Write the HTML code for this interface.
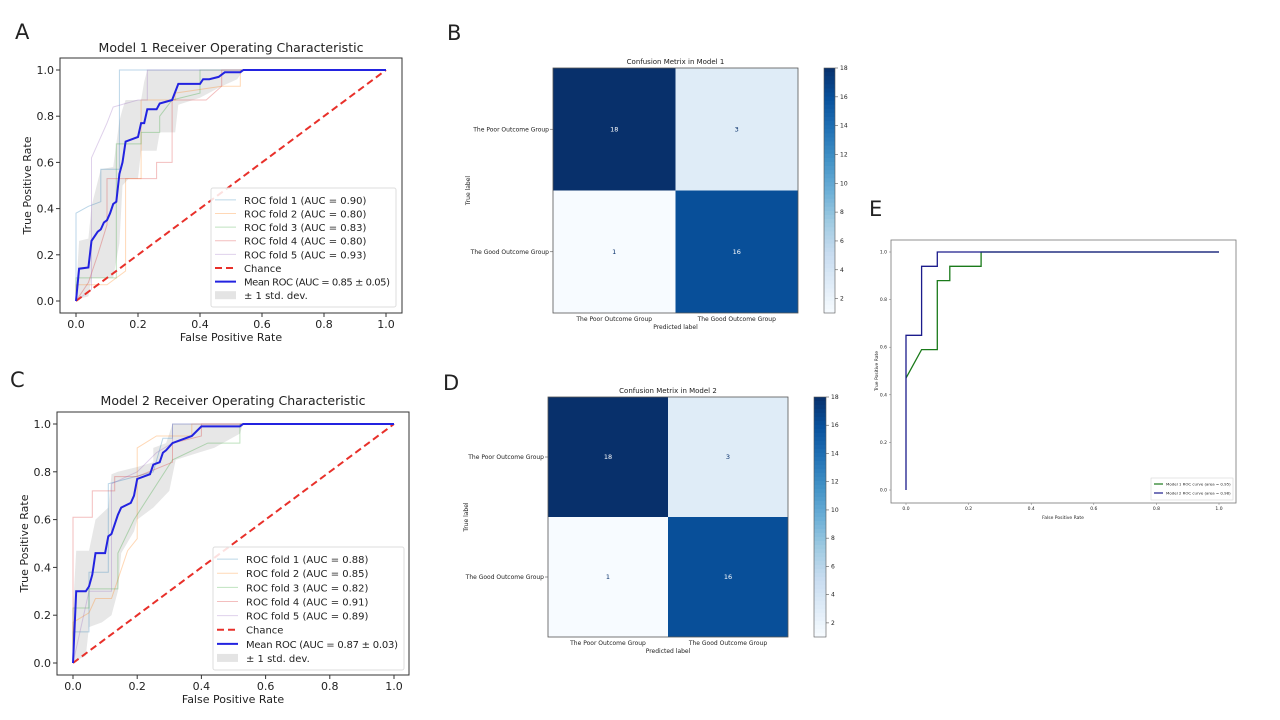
<!DOCTYPE html>
<html><head><meta charset="utf-8"><style>
body{margin:0;background:#fff}
svg{display:block}
text{font-family:"DejaVu Sans","Liberation Sans",sans-serif;fill:#222}
</style></head><body>
<svg id="fig" width="1280" height="720" viewBox="0 0 1280 720" xmlns="http://www.w3.org/2000/svg">
<rect width="1280" height="720" fill="#fff"/>
<text x="15" y="39" font-size="21" font-family="Liberation Sans">A</text>
<text x="447" y="40" font-size="21" font-family="Liberation Sans">B</text>
<text x="10" y="387" font-size="21" font-family="Liberation Sans">C</text>
<text x="443" y="390" font-size="21" font-family="Liberation Sans">D</text>
<text x="869" y="216" font-size="21" font-family="Liberation Sans">E</text>
</svg>
<script>
// ---- data ----
const ticks = [0, 0.2, 0.4, 0.6, 0.8, 1.0];
const tickLabels = ["0.0", "0.2", "0.4", "0.6", "0.8", "1.0"];
const foldColors = ["#1f77b4", "#ff7f0e", "#2ca02c", "#d62728", "#9467bd"];
const m1Auc = ["0.90", "0.80", "0.83", "0.80", "0.93"];
const m1MeanLabel = "Mean ROC (AUC = 0.85 ± 0.05)";
const m1Folds = [
 [[0,0],[0,0.38],[0.04,0.41],[0.08,0.43],[0.08,0.57],[0.14,0.57],[0.14,1],[1,1]],
 [[0,0],[0,0.07],[0.1,0.07],[0.16,0.13],[0.16,0.53],[0.21,0.53],[0.21,0.87],[0.32,0.87],[0.32,0.9],[0.47,0.93],[0.53,0.93],[0.53,1],[1,1]],
 [[0,0],[0,0.1],[0.13,0.1],[0.13,0.68],[0.21,0.68],[0.21,0.73],[0.27,0.73],[0.27,0.8],[0.31,0.87],[0.4,0.9],[0.4,1],[1,1]],
 [[0,0],[0.04,0.08],[0.07,0.2],[0.1,0.33],[0.1,0.53],[0.26,0.53],[0.26,0.6],[0.31,0.6],[0.31,0.87],[0.42,0.87],[0.47,0.93],[0.47,1],[1,1]],
 [[0,0],[0.05,0.05],[0.05,0.62],[0.1,0.77],[0.12,0.84],[0.2,0.87],[0.23,0.87],[0.23,1],[1,1]]
];
const m1Mean = [[0,0],[0.01,0.14],[0.04,0.145],[0.05,0.26],[0.07,0.3],[0.08,0.31],[0.09,0.34],[0.1,0.35],[0.11,0.38],[0.12,0.42],[0.13,0.43],[0.14,0.55],[0.15,0.6],[0.16,0.69],[0.2,0.71],[0.21,0.77],[0.22,0.77],[0.23,0.83],[0.26,0.83],[0.27,0.855],[0.31,0.87],[0.33,0.94],[0.4,0.94],[0.41,0.96],[0.43,0.96],[0.46,0.97],[0.48,0.99],[0.53,0.99],[0.54,1],[1,1]];
const m1Upper = [[0,0.04],[0.01,0.26],[0.04,0.27],[0.05,0.41],[0.08,0.57],[0.12,0.58],[0.14,0.78],[0.15,0.83],[0.16,0.87],[0.21,0.87],[0.22,0.95],[0.23,1],[1,1]];
const m1Lower = [[0,0],[0.01,0.01],[0.04,0.02],[0.05,0.1],[0.12,0.1],[0.14,0.25],[0.15,0.5],[0.17,0.53],[0.2,0.53],[0.21,0.65],[0.26,0.65],[0.27,0.73],[0.32,0.73],[0.33,0.85],[0.4,0.88],[0.47,0.93],[0.52,0.96],[0.54,1],[1,1]];
const m2Auc = ["0.88", "0.85", "0.82", "0.91", "0.89"];
const m2MeanLabel = "Mean ROC (AUC = 0.87 ± 0.03)";
const m2Folds = [
 [[0,0],[0,0.13],[0.05,0.13],[0.05,0.38],[0.11,0.38],[0.11,0.75],[0.25,0.8],[0.28,0.94],[0.31,0.94],[0.31,1],[1,1]],
 [[0,0],[0,0.17],[0.05,0.21],[0.07,0.27],[0.12,0.27],[0.17,0.47],[0.2,0.52],[0.2,0.9],[0.26,0.95],[0.37,0.95],[0.37,1],[1,1]],
 [[0,0],[0,0.23],[0.05,0.23],[0.05,0.31],[0.14,0.31],[0.14,0.46],[0.19,0.6],[0.31,0.85],[0.42,0.92],[0.52,0.92],[0.52,1],[1,1]],
 [[0,0],[0,0.61],[0.06,0.61],[0.06,0.72],[0.13,0.72],[0.13,0.78],[0.2,0.78],[0.31,0.84],[0.31,0.92],[0.4,0.95],[0.4,1],[1,1]],
 [[0,0],[0.05,0.3],[0.12,0.3],[0.12,0.75],[0.2,0.8],[0.26,0.88],[0.31,0.92],[0.31,1],[1,1]]
];
const m2Mean = [[0,0],[0.01,0.3],[0.04,0.3],[0.05,0.32],[0.06,0.37],[0.07,0.46],[0.1,0.46],[0.11,0.53],[0.12,0.54],[0.14,0.62],[0.15,0.65],[0.18,0.67],[0.19,0.7],[0.2,0.77],[0.24,0.79],[0.25,0.83],[0.27,0.84],[0.28,0.88],[0.29,0.89],[0.31,0.92],[0.33,0.93],[0.37,0.95],[0.4,0.99],[0.52,0.99],[0.53,1],[1,1]];
const m2Upper = [[0,0.23],[0.01,0.47],[0.05,0.47],[0.07,0.6],[0.11,0.65],[0.12,0.79],[0.14,0.8],[0.2,0.82],[0.25,0.84],[0.25,0.9],[0.29,0.92],[0.31,1],[1,1]];
const m2Lower = [[0,0],[0.01,0.01],[0.04,0.03],[0.05,0.15],[0.09,0.17],[0.12,0.2],[0.14,0.3],[0.15,0.46],[0.19,0.55],[0.2,0.6],[0.25,0.65],[0.3,0.72],[0.32,0.85],[0.39,0.88],[0.44,0.9],[0.52,0.96],[0.53,1],[1,1]];
const cmLabels = ["The Poor Outcome Group", "The Good Outcome Group"];
const cm1 = [[18, 3], [1, 16]];
const cm2 = [[18, 3], [1, 16]];
const cbTicks = [2, 4, 6, 8, 10, 12, 14, 16, 18];
const eModel1 = [[0,0.47],[0.05,0.59],[0.1,0.59],[0.1,0.88],[0.14,0.88],[0.14,0.94],[0.24,0.94],[0.24,1],[1,1]];
const eModel2 = [[0,0],[0,0.65],[0.05,0.65],[0.05,0.94],[0.1,0.94],[0.1,1],[1,1]];
const eLabels = ["Model 1 ROC curve (area = 0.95)", "Model 2 ROC curve (area = 0.98)"];

// ---- drawing ----
const svg = document.getElementById('fig');
const NS = 'http://www.w3.org/2000/svg';
function mk(tag, attrs, parent) {
  const e = document.createElementNS(NS, tag);
  for (const k in attrs) e.setAttribute(k, attrs[k]);
  (parent || svg).appendChild(e);
  return e;
}
function txt(x, y, s, size, anchor, parent, extra) {
  const t = mk('text', Object.assign({x: x, y: y, 'font-size': size, 'text-anchor': anchor || 'start'}, extra || {}), parent);
  t.textContent = s;
  return t;
}
function pathD(pts, sx, sy) {
  return pts.map((p, i) => (i ? 'L' : 'M') + sx(p[0]).toFixed(1) + ',' + sy(p[1]).toFixed(1)).join('');
}

function rocPanel(cfg) {
  const g = mk('g', {});
  
  
  const sx = v => cfg.x0 + v * (cfg.x1 - cfg.x0);
  const sy = v => cfg.y0 - v * (cfg.y0 - cfg.y1);
  const band = cfg.upper.concat(cfg.lower.slice().reverse());
  const b = mk('path', {d: pathD(band, sx, sy) + 'Z', fill: '#bbbbbb', 'fill-opacity': 0.35, stroke: 'none'}, g);
  
  
  cfg.folds.forEach((f, i) => {
    const p = mk('path', {d: pathD(f, sx, sy), fill: 'none', stroke: foldColors[i], 'stroke-opacity': 0.3, 'stroke-width': 1}, g);
    
    
  });
  const ch = mk('line', {x1: sx(0), y1: sy(0), x2: sx(1), y2: sy(1), stroke: '#e8302a', 'stroke-width': 2, 'stroke-dasharray': '7,4'}, g);
  
  
  const m = mk('path', {d: pathD(cfg.mean, sx, sy), fill: 'none', stroke: '#2323e0', 'stroke-width': 2}, g);
  
  
  const fr = mk('rect', {x: cfg.fx0, y: cfg.fy0, width: cfg.fx1 - cfg.fx0, height: cfg.fy1 - cfg.fy0, fill: 'none', stroke: '#333', 'stroke-width': 1}, g);
  
  
  ticks.forEach((t, i) => {
    mk('line', {x1: sx(t), x2: sx(t), y1: cfg.fy1, y2: cfg.fy1 + 4, stroke: '#333'}, g);
    const xl = txt(sx(t), cfg.fy1 + 15, tickLabels[i], 11, 'middle', g);
    
    
    mk('line', {x1: cfg.fx0 - 4, x2: cfg.fx0, y1: sy(t), y2: sy(t), stroke: '#333'}, g);
    const yl = txt(cfg.fx0 - 6, sy(t) + 4, tickLabels[i], 11, 'end', g);
    
    
  });
  const ti = txt((cfg.fx0 + cfg.fx1) / 2, cfg.titleY, cfg.title, 12.5, 'middle', g);
  
  
  const xt = txt((cfg.fx0 + cfg.fx1) / 2, cfg.fy1 + 28, 'False Positive Rate', 11, 'middle', g);
  
  
  const yt = txt(0, 0, 'True Positive Rate', 11, 'middle', g, {transform: 'translate(' + (cfg.fx0 - 29) + ',' + ((cfg.fy0 + cfg.fy1) / 2) + ') rotate(-90)'});
  
  
  // legend
  const lg = mk('g', {}, g);
  
  
  mk('rect', {x: cfg.lx0, y: cfg.ly0, width: cfg.lx1 - cfg.lx0, height: cfg.ly1 - cfg.ly0, rx: 2, fill: '#fff', 'fill-opacity': 0.85, stroke: '#ddd'}, lg);
  const n = 8, step = (cfg.ly1 - cfg.ly0 - 10) / n;
  const labels = cfg.auc.map((a, i) => 'ROC fold ' + (i + 1) + ' (AUC = ' + a + ')').concat(['Chance', cfg.meanLabel, '± 1 std. dev.']);
  labels.forEach((s, i) => {
    const cy = cfg.ly0 + 5 + step * (i + 0.5);
    const ent = mk('g', {}, lg);
    
    
    const lx = cfg.lx0 + 4, lw = 21;
    if (i < 5) mk('line', {x1: lx, x2: lx + lw, y1: cy, y2: cy, stroke: foldColors[i], 'stroke-opacity': 0.3}, ent);
    else if (i === 5) mk('line', {x1: lx, x2: lx + lw, y1: cy, y2: cy, stroke: '#e8302a', 'stroke-width': 2, 'stroke-dasharray': '7,4'}, ent);
    else if (i === 6) mk('line', {x1: lx, x2: lx + lw, y1: cy, y2: cy, stroke: '#2323e0', 'stroke-width': 2}, ent);
    else mk('rect', {x: lx, y: cy - 4, width: lw, height: 8, fill: '#bbbbbb', 'fill-opacity': 0.4}, ent);
    txt(lx + lw + 8, cy + 4, s, 10, 'start', ent, {textLength: cfg.lx1 - lx - lw - 12 > 0 && i === 6 ? cfg.lx1 - lx - lw - 14 : null} );
  });
}

rocPanel({name: 'model1-roc-chart', title: 'Model 1 Receiver Operating Characteristic', titleY: 52,
  x0: 76, x1: 386, y0: 301, y1: 70, fx0: 60, fx1: 402, fy0: 58, fy1: 313,
  lx0: 211, lx1: 396, ly0: 188, ly1: 307, folds: m1Folds, mean: m1Mean, upper: m1Upper, lower: m1Lower, auc: m1Auc, meanLabel: m1MeanLabel});
rocPanel({name: 'model2-roc-chart', title: 'Model 2 Receiver Operating Characteristic', titleY: 405,
  x0: 73, x1: 394, y0: 663, y1: 424, fx0: 57, fx1: 409, fy0: 412, fy1: 675,
  lx0: 213, lx1: 404, ly0: 547, ly1: 670, folds: m2Folds, mean: m2Mean, upper: m2Upper, lower: m2Lower, auc: m2Auc, meanLabel: m2MeanLabel});

// Blues colormap
const blues = [[247,251,255],[222,235,247],[198,219,239],[158,202,225],[107,174,214],[66,146,198],[33,113,181],[8,81,156],[8,48,107]];
function bluesAt(t) {
  t = Math.max(0, Math.min(1, t)) * (blues.length - 1);
  const i = Math.min(blues.length - 2, Math.floor(t)), f = t - i;
  const c = blues[i].map((v, k) => Math.round(v + (blues[i + 1][k] - v) * f));
  return 'rgb(' + c.join(',') + ')';
}
const vmin = 1, vmax = 18;
function cmPanel(cfg) {
  const g = mk('g', {});
  
  
  const cw = (cfg.x1 - cfg.x0) / 2, chh = (cfg.y1 - cfg.y0) / 2;
  cfg.data.forEach((row, r) => row.forEach((v, c) => {
    const cell = mk('rect', {x: cfg.x0 + c * cw, y: cfg.y0 + r * chh, width: cw, height: chh, fill: bluesAt((v - vmin) / (vmax - vmin))}, g);
    
    
    const t = txt(cfg.x0 + (c + 0.5) * cw, cfg.y0 + (r + 0.5) * chh + 2, String(v), 6.5, 'middle', g, {style: 'fill:' + ((v - vmin) / (vmax - vmin) > 0.5 ? '#fff' : '#08306b')});
    
    
  }));
  mk('rect', {x: cfg.x0, y: cfg.y0, width: cfg.x1 - cfg.x0, height: cfg.y1 - cfg.y0, fill: 'none', stroke: '#555', 'stroke-width': 0.8}, g);
  cmLabels.forEach((s, i) => {
    const yl = txt(cfg.x0 - 4, cfg.y0 + (i + 0.5) * chh + 2, s, 6, 'end', g);
    
    
    mk('line', {x1: cfg.x0 - 3, x2: cfg.x0, y1: cfg.y0 + (i + 0.5) * chh, y2: cfg.y0 + (i + 0.5) * chh, stroke: '#555', 'stroke-width': 0.6}, g);
    const xl = txt(cfg.x0 + (i + 0.5) * cw, cfg.y1 + 8, s, 6, 'middle', g);
    
    
  });
  const ti = txt((cfg.x0 + cfg.x1) / 2, cfg.y0 - 4, cfg.title, 7, 'middle', g);
  
  
  const xt = txt((cfg.x0 + cfg.x1) / 2, cfg.y1 + 16, 'Predicted label', 6, 'middle', g);
  
  
  const yt = txt(0, 0, 'True label', 6, 'middle', g, {transform: 'translate(' + cfg.tlx + ',' + ((cfg.y0 + cfg.y1) / 2) + ') rotate(-90)'});
  
  
  // colorbar
  const cb = mk('g', {}, g);
  
  
  const N = 60, bh = (cfg.y1 - cfg.y0) / N;
  for (let i = 0; i < N; i++) mk('rect', {x: cfg.cbx0, y: cfg.y0 + i * bh, width: cfg.cbx1 - cfg.cbx0, height: bh + 0.5, fill: bluesAt(1 - (i + 0.5) / N)}, cb);
  mk('rect', {x: cfg.cbx0, y: cfg.y0, width: cfg.cbx1 - cfg.cbx0, height: cfg.y1 - cfg.y0, fill: 'none', stroke: '#555', 'stroke-width': 0.6}, cb);
  const cy = v => cfg.y1 - (v - vmin) / (vmax - vmin) * (cfg.y1 - cfg.y0);
  cbTicks.forEach(v => {
    mk('line', {x1: cfg.cbx1, x2: cfg.cbx1 + 3, y1: cy(v), y2: cy(v), stroke: '#555', 'stroke-width': 0.6}, cb);
    txt(cfg.cbx1 + 5, cy(v) + 2, String(v), 6, 'start', cb);
  });
}
cmPanel({name: 'model1-confusion-matrix', title: 'Confusion Metrix in Model 1', data: cm1, x0: 553, x1: 798, y0: 68, y1: 313, cbx0: 824, cbx1: 835, tlx: 470});
cmPanel({name: 'model2-confusion-matrix', title: 'Confusion Metrix in Model 2', data: cm2, x0: 548, x1: 788, y0: 397, y1: 637, cbx0: 814, cbx1: 826, tlx: 468});

// Panel E
(function () {
  const g = mk('g', {});
  
  
  const x0 = 906, x1 = 1219, y0 = 490, y1 = 252;
  const sx = v => x0 + v * (x1 - x0), sy = v => y0 - v * (y0 - y1);
  const a = mk('path', {d: pathD(eModel1, sx, sy), fill: 'none', stroke: '#1a7a1a', 'stroke-width': 1.3}, g);
  
  
  const b = mk('path', {d: pathD(eModel2, sx, sy), fill: 'none', stroke: '#1c1c8c', 'stroke-width': 1.3}, g);
  
  
  mk('rect', {x: 891, y: 240, width: 345, height: 263, fill: 'none', stroke: '#777', 'stroke-width': 0.8}, g);
  ticks.forEach((t, i) => {
    mk('line', {x1: sx(t), x2: sx(t), y1: 503, y2: 505, stroke: '#777', 'stroke-width': 0.5}, g);
    const xl = txt(sx(t), 510, tickLabels[i], 4.5, 'middle', g);
    
    
    mk('line', {x1: 889, x2: 891, y1: sy(t), y2: sy(t), stroke: '#777', 'stroke-width': 0.5}, g);
    const yl = txt(887, sy(t) + 1.5, tickLabels[i], 4.5, 'end', g);
    
    
  });
  const xt = txt(1063, 519, 'False Positive Rate', 4.5, 'middle', g);
  
  
  const yt = txt(0, 0, 'True Positive Rate', 4.5, 'middle', g, {transform: 'translate(878,371) rotate(-90)'});
  
  
  const lg = mk('g', {}, g);
  
  
  mk('rect', {x: 1151, y: 478, width: 82, height: 22, fill: '#fff', stroke: '#ccc', 'stroke-width': 0.5}, lg);
  ['#1a7a1a', '#1c1c8c'].forEach((c, i) => {
    const y = 484 + i * 9;
    mk('line', {x1: 1154, x2: 1163, y1: y, y2: y, stroke: c, 'stroke-width': 1.2}, lg);
    txt(1166, y + 1.5, eLabels[i], 3.9, 'start', lg);
  });
})();
</script>
</body></html>
